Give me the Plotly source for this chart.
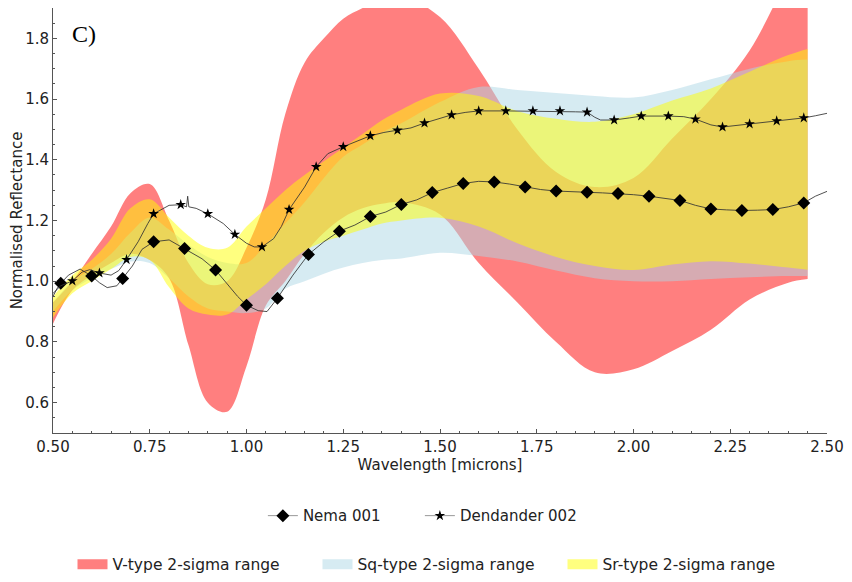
import plotly.graph_objects as go

# %%
# wavelength grid for the 2-sigma ranges (microns)
wl = [0.50, 0.55, 0.60, 0.65, 0.70, 0.75, 0.80, 0.85, 0.90, 0.95,
      1.00, 1.05, 1.10, 1.15, 1.20, 1.25, 1.30, 1.35, 1.40, 1.50,
      1.60, 1.70, 1.80, 1.90, 2.00, 2.10, 2.20, 2.30, 2.40, 2.45]

# V-type range
v_hi = [0.93, 1.00, 1.09, 1.18, 1.29, 1.32, 1.20, 1.06, 0.99, 1.00,
        1.11, 1.27, 1.55, 1.72, 1.80, 1.865, 1.90, 1.93, 1.94, 1.87,
        1.70, 1.50, 1.36, 1.31, 1.34, 1.47, 1.60, 1.76, 2.00, 2.10]
v_lo = [0.86, 0.97, 1.02, 1.06, 1.09, 1.07, 1.01, 0.79, 0.60, 0.57,
        0.72, 0.92, 1.00, 1.09, 1.16, 1.21, 1.24, 1.255, 1.26, 1.22,
        1.06, 0.93, 0.80, 0.70, 0.71, 0.77, 0.84, 0.94, 0.995, 1.007]

# Sq-type range
sq_hi = [0.93, 1.00, 1.04, 1.09, 1.16, 1.21, 1.17, 1.12, 1.08, 1.06,
         1.06, 1.12, 1.19, 1.26, 1.34, 1.41, 1.45, 1.49, 1.52, 1.59,
         1.64, 1.63, 1.62, 1.61, 1.605, 1.63, 1.665, 1.70, 1.725, 1.73]
sq_lo = [0.90, 0.97, 1.01, 1.04, 1.065, 1.06, 1.01, 0.95, 0.91, 0.90,
         0.895, 0.91, 0.975, 1.00, 1.025, 1.045, 1.06, 1.07, 1.075, 1.094,
         1.083, 1.065, 1.035, 1.01, 1.00, 1.00, 1.007, 1.013, 1.017, 1.017]

# Sr-type range
sr_hi = [0.95, 1.02, 1.07, 1.14, 1.24, 1.27, 1.21, 1.15, 1.11, 1.11,
         1.18, 1.24, 1.30, 1.35, 1.395, 1.44, 1.485, 1.53, 1.565, 1.618,
         1.61, 1.56, 1.535, 1.525, 1.55, 1.595, 1.635, 1.69, 1.745, 1.765]
sr_lo = [0.88, 0.96, 1.00, 1.04, 1.08, 1.07, 0.98, 0.91, 0.89, 0.89,
         0.94, 0.99, 1.05, 1.10, 1.13, 1.15, 1.17, 1.19, 1.20, 1.209,
         1.18, 1.125, 1.08, 1.05, 1.037, 1.055, 1.066, 1.058, 1.045, 1.038]

# %%
# Nema 001 spectrum
nema_x = [0.50, 0.51, 0.52, 0.54, 0.57, 0.60, 0.62, 0.64, 0.665, 0.68,
          0.705, 0.73, 0.76, 0.80, 0.84, 0.885, 0.92, 0.95, 0.977, 1.00,
          1.03, 1.053, 1.08, 1.12, 1.16, 1.20, 1.24, 1.28, 1.32, 1.36,
          1.40, 1.44, 1.48, 1.52, 1.56, 1.60, 1.64, 1.68, 1.72, 1.76,
          1.80, 1.84, 1.88, 1.92, 1.96, 2.00, 2.04, 2.08, 2.12, 2.16,
          2.20, 2.24, 2.28, 2.32, 2.36, 2.40, 2.44, 2.47, 2.50]
nema_y = [0.95, 0.975, 0.993, 1.02, 1.04, 1.017, 0.995, 0.979, 0.985, 1.009,
          1.05, 1.105, 1.13, 1.136, 1.108, 1.074, 1.037, 0.993, 0.95, 0.921,
          0.903, 0.90, 0.944, 1.02, 1.088, 1.13, 1.165, 1.185, 1.213, 1.228,
          1.253, 1.268, 1.292, 1.307, 1.322, 1.329, 1.327, 1.32, 1.31, 1.302,
          1.297, 1.296, 1.293, 1.291, 1.289, 1.285, 1.28, 1.274, 1.266, 1.25,
          1.238, 1.235, 1.233, 1.234, 1.236, 1.245, 1.258, 1.28, 1.296]
nema_mk_x = [0.52, 0.60, 0.68, 0.76, 0.84, 0.92, 1.00, 1.08, 1.16, 1.24,
             1.32, 1.40, 1.48, 1.56, 1.64, 1.72, 1.80, 1.88, 1.96, 2.04,
             2.12, 2.20, 2.28, 2.36, 2.44]
nema_mk_y = [0.993, 1.017, 1.009, 1.13, 1.108, 1.037, 0.921, 0.944, 1.088, 1.165,
             1.213, 1.253, 1.292, 1.322, 1.327, 1.31, 1.297, 1.293, 1.289, 1.28,
             1.266, 1.238, 1.233, 1.236, 1.258]

# Dendander 002 spectrum
dend_x = [0.50, 0.52, 0.55, 0.575, 0.595, 0.62, 0.65, 0.67, 0.69, 0.72,
          0.745, 0.76, 0.80, 0.83, 0.845, 0.848, 0.851, 0.87, 0.90, 0.94,
          0.97, 1.00, 1.02, 1.04, 1.07, 1.09, 1.11, 1.15, 1.18, 1.21,
          1.25, 1.285, 1.32, 1.355, 1.39, 1.425, 1.46, 1.495, 1.53, 1.565,
          1.60, 1.67, 1.74, 1.81, 1.85, 1.88, 1.90, 1.915, 1.95, 1.99,
          2.02, 2.09, 2.13, 2.16, 2.20, 2.23, 2.265, 2.30, 2.37, 2.44,
          2.47, 2.50]
dend_y = [0.96, 0.985, 1.001, 1.03, 1.038, 1.027, 1.02, 1.035, 1.071, 1.13,
          1.19, 1.222, 1.25, 1.252, 1.245, 1.28, 1.245, 1.24, 1.222, 1.19,
          1.154, 1.125, 1.113, 1.113, 1.14, 1.18, 1.236, 1.31, 1.377, 1.42,
          1.443, 1.462, 1.479, 1.49, 1.497, 1.505, 1.521, 1.535, 1.548, 1.556,
          1.561, 1.561, 1.56, 1.561, 1.558, 1.557, 1.54, 1.531, 1.531, 1.538,
          1.544, 1.544, 1.542, 1.534, 1.515, 1.508, 1.512, 1.518, 1.528, 1.538,
          1.545, 1.553]
dend_mk_x = [0.55, 0.62, 0.69, 0.76, 0.83, 0.90, 0.97, 1.04, 1.11, 1.18,
             1.25, 1.32, 1.39, 1.46, 1.53, 1.60, 1.67, 1.74, 1.81, 1.88,
             1.95, 2.02, 2.09, 2.16, 2.23, 2.30, 2.37, 2.44]
dend_mk_y = [1.001, 1.027, 1.071, 1.222, 1.252, 1.222, 1.154, 1.113, 1.236, 1.377,
             1.443, 1.479, 1.497, 1.521, 1.548, 1.561, 1.561, 1.561, 1.561, 1.557,
             1.531, 1.544, 1.544, 1.534, 1.508, 1.518, 1.528, 1.538]

# %%
fig = go.Figure()

bands = [
    ("V-type 2-sigma range", v_lo, v_hi, "rgba(255,0,0,0.5)"),
    ("Sq-type 2-sigma range", sq_lo, sq_hi, "rgba(173,216,230,0.5)"),
    ("Sr-type 2-sigma range", sr_lo, sr_hi, "rgba(255,255,0,0.5)"),
]
for name, lo, hi, col in bands:
    fig.add_trace(go.Scatter(
        x=wl, y=lo, mode="lines", line=dict(width=0, shape="spline"),
        hoverinfo="skip", showlegend=False
    ))
    fig.add_trace(go.Scatter(
        x=wl, y=hi, mode="lines", line=dict(width=0, shape="spline"),
        fill="tonexty", fillcolor=col, name=name, showlegend=False
    ))
    # legend swatch only (thick line gives a full rectangle)
    fig.add_trace(go.Scatter(
        x=[None], y=[None], mode="lines", line=dict(color=col, width=12),
        name=name, legend="legend2"
    ))

spectra = [
    ("Nema 001", nema_x, nema_y, nema_mk_x, nema_mk_y, "diamond", 10),
    ("Dendander 002", dend_x, dend_y, dend_mk_x, dend_mk_y, "star", 8),
]
for name, x, y, mx, my, sym, sz in spectra:
    fig.add_trace(go.Scatter(
        x=x, y=y, mode="lines", line=dict(color="rgba(50,50,50,0.85)", width=1),
        showlegend=False
    ))
    fig.add_trace(go.Scatter(
        x=mx, y=my, mode="markers",
        marker=dict(symbol=sym, size=sz, color="black"),
        showlegend=False
    ))
    # legend entry only
    fig.add_trace(go.Scatter(
        x=[None], y=[None], mode="lines+markers", name=name,
        line=dict(color="#999999", width=1),
        marker=dict(symbol=sym, size=sz, color="black")
    ))

fig.add_annotation(
    text="C)", xref="paper", yref="paper", x=0.022, y=0.94,
    xanchor="left", yanchor="middle", showarrow=False,
    font=dict(family="Liberation Serif", size=24, color="black")
)

axis_common = dict(
    showgrid=False, zeroline=False, showline=True, linecolor="#555555",
    linewidth=1, ticks="inside", ticklen=4, tickcolor="#555555",
    tickfont=dict(size=15, color="#222222"), automargin=False,
)
fig.update_xaxes(
    range=[0.5, 2.5], tick0=0.5, dtick=0.25, tickformat=".2f",
    minor=dict(dtick=0.05, ticks="inside", ticklen=2, tickcolor="#555555"),
    title=dict(text="Wavelength [microns]", font=dict(size=15, color="#222222"), standoff=2),
    **axis_common
)
fig.update_yaxes(
    range=[0.5, 1.9], tick0=0, dtick=0.2, tickformat=".1f",
    minor=dict(dtick=0.05, ticks="inside", ticklen=2, tickcolor="#555555"),
    title=dict(text="Normalised Reflectance", font=dict(size=15, color="#222222")),
    **axis_common
)

# page body adds an 8px offset, margins compensate for it
fig.update_layout(
    width=852, height=582,
    margin=dict(l=45, r=33, t=0, b=157),
    plot_bgcolor="white", paper_bgcolor="white",
    font=dict(family="DejaVu Sans", size=15, color="#222222"),
    legend=dict(orientation="h", x=0.474, xanchor="center", y=-0.195, yanchor="middle",
                font=dict(size=15), bgcolor="rgba(0,0,0,0)", entrywidth=112,
                traceorder="normal"),
    legend2=dict(orientation="h", x=0.5, xanchor="center", y=-0.31, yanchor="middle",
                 font=dict(size=15.5), bgcolor="rgba(0,0,0,0)", entrywidth=200,
                 traceorder="normal"),
)

fig.write_html("out.html")
